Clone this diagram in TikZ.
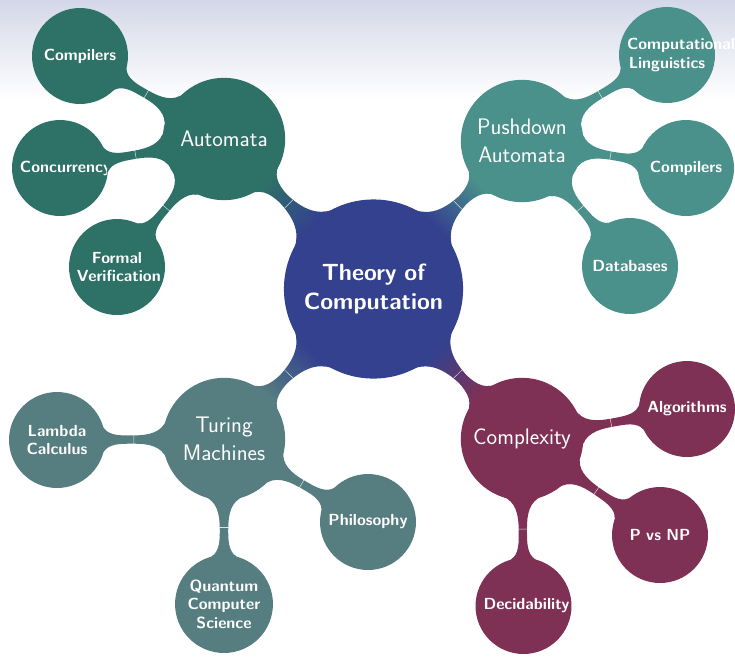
\documentclass[tikz,border=0pt]{standalone}
\usetikzlibrary{mindmap,shadings,calc}
\definecolor{rootc}{RGB}{52,65,143}
\definecolor{autc}{RGB}{45,113,103}
\definecolor{pdac}{RGB}{74,145,139}
\definecolor{tmc}{RGB}{86,126,128}
\definecolor{cxc}{RGB}{126,49,85}
\definecolor{bgtop}{RGB}{212,215,232}
\begin{document}
\begin{tikzpicture}[x=0.0315cm,y=-0.0315cm,mindmap,
  every concept/.append style={text=white, align=center},
  rootnode/.style={concept, minimum size=5.6cm, text width=4.9cm, font=\sffamily\bfseries\fontsize{21}{26.6}\selectfont},
  lonenode/.style={concept, minimum size=3.81cm, text width=3.36cm, font=\sffamily\fontsize{20.16}{25.2}\selectfont},
  leafnode/.style={concept, minimum size=2.98cm, text width=2.52cm, font=\sffamily\bfseries\fontsize{14.4}{16.5}\selectfont},
  midtick/.style={draw=white, draw opacity=0.8, line width=0.45pt},
]
\useasboundingbox (0,0) rectangle (735,659);
\fill[top color=bgtop, bottom color=white, draw=none] (0,0) rectangle (735,100);

\node[rootnode, concept color=rootc] (root) at (373.5,289) {Theory of\\Computation};
\node[lonenode, concept color=autc] (aut) at (224,139) {Automata};
\node[lonenode, concept color=pdac] (pda) at (522,141) {Pushdown\\Automata};
\node[lonenode, concept color=tmc] (tm) at (224,439) {Turing\\Machines};
\node[lonenode, concept color=cxc] (cx) at (522,439) {Complexity};

\node[leafnode, concept color=autc] (comp1) at (80,56) {Compilers};
\node[leafnode, concept color=autc] (conc) at (60,168) {Concurrency};
\node[leafnode, concept color=autc] (fv) at (117,267) {Formal\\Verification};

\node[leafnode, concept color=pdac] (cl) at (667,55) {Computational Linguistics};
\node[leafnode, concept color=pdac] (comp2) at (686,168) {Compilers};
\node[leafnode, concept color=pdac] (db) at (630,266) {Databases};

\node[leafnode, concept color=tmc] (lc) at (57,440) {Lambda\\Calculus};
\node[leafnode, concept color=tmc] (qcs) at (224,604) {Quantum\\Computer\\Science};
\node[leafnode, concept color=tmc] (phil) at (368,522) {Philosophy};

\node[leafnode, concept color=cxc] (alg) at (687,409) {Algorithms};
\node[leafnode, concept color=cxc] (pnp) at (660,535) {P vs NP};
\node[leafnode, concept color=cxc] (dec) at (523.5,606) {Decidability};

\path (root) to[circle connection bar switch color=from (rootc) to (autc)] (aut);
\path (root) to[circle connection bar switch color=from (rootc) to (pdac)] (pda);
\path (root) to[circle connection bar switch color=from (rootc) to (tmc)] (tm);
\path (root) to[circle connection bar switch color=from (rootc) to (cxc)] (cx);

\path (aut) to[circle connection bar switch color=from (autc) to (autc)] (comp1);
\path (aut) to[circle connection bar switch color=from (autc) to (autc)] (conc);
\path (aut) to[circle connection bar switch color=from (autc) to (autc)] (fv);

\path (pda) to[circle connection bar switch color=from (pdac) to (pdac)] (cl);
\path (pda) to[circle connection bar switch color=from (pdac) to (pdac)] (comp2);
\path (pda) to[circle connection bar switch color=from (pdac) to (pdac)] (db);

\path (tm) to[circle connection bar switch color=from (tmc) to (tmc)] (lc);
\path (tm) to[circle connection bar switch color=from (tmc) to (tmc)] (qcs);
\path (tm) to[circle connection bar switch color=from (tmc) to (tmc)] (phil);

\path (cx) to[circle connection bar switch color=from (cxc) to (cxc)] (alg);
\path (cx) to[circle connection bar switch color=from (cxc) to (cxc)] (pnp);
\path (cx) to[circle connection bar switch color=from (cxc) to (cxc)] (dec);

\foreach \a/\b in {root/aut,root/pda,root/tm,root/cx,aut/comp1,aut/conc,aut/fv,pda/cl,pda/comp2,pda/db,tm/lc,tm/qcs,tm/phil,cx/alg,cx/pnp,cx/dec}{
  \path (\a) -- (\b) coordinate[pos=0.5] (mtk);
  \draw[midtick] ($(mtk)!0.18cm!90:(\b.center)$) -- ($(mtk)!0.18cm!-90:(\b.center)$);
}
\end{tikzpicture}
\end{document}
